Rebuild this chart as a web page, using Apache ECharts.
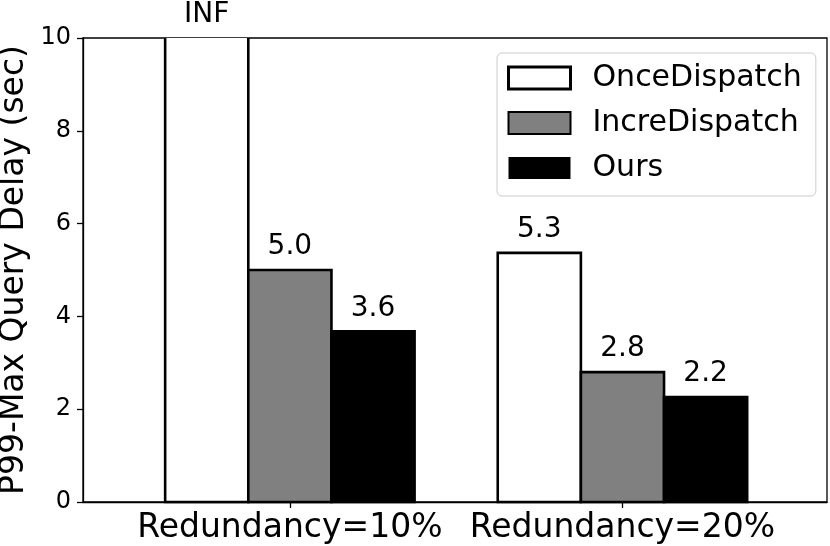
<!DOCTYPE html>
<html>
<head>
<meta charset="utf-8">
<script src="https://cdn.jsdelivr.net/npm/echarts@6/dist/echarts.min.js"></script>
<style>
  html, body { margin: 0; padding: 0; background: #fff; }
  #chart { width: 830px; height: 546px; }
</style>
</head>
<body>
<div id="chart"></div>
<script>
// ---- data ----
const categories = ['Redundancy=10%', 'Redundancy=20%'];
const seriesNames = ['OnceDispatch', 'IncreDispatch', 'Ours'];
const onceValues = [Infinity, 5.37];   // first value is INF (off scale)
const increValues = [5.0, 2.80];
const oursValues = [3.68, 2.26];
const onceLabels = ['INF', '5.3'];
const increLabels = ['5.0', '2.8'];
const oursLabels = ['3.6', '2.2'];
const yTicks = [0, 2, 4, 6, 8, 10];
const yTitle = 'P99-Max Query Delay (sec)';

// ---- styling / layout ----
const Y_MAX = 10;
const BAR_W = 0.25;
const OFFSETS = [-0.25, 0, 0.25];
const FILLS = ['#ffffff', '#808080', '#000000'];
const FONT = 'DejaVu Sans';
const allValues = [onceValues, increValues, oursValues];
const allLabels = [onceLabels, increLabels, oursLabels];

function makeRender(si) {
  return function (params, api) {
    const ci = api.value(0);
    const v = api.value(1);
    const x = ci + OFFSETS[si];
    const clipped = !(v <= Y_MAX);
    const top = clipped ? Y_MAX : v;
    const p0 = api.coord([x - BAR_W / 2, top]);
    const p1 = api.coord([x + BAR_W / 2, 0]);
    const x0 = p0[0], y0 = p0[1], x1 = p1[0], y1 = p1[1];
    const edge = clipped
      ? { type: 'polyline', shape: { points: [[x0, y0], [x0, y1], [x1, y1], [x1, y0]] },
          style: { stroke: '#000', lineWidth: 2.6, fill: null } }
      : { type: 'polygon', shape: { points: [[x0, y1], [x0, y0], [x1, y0], [x1, y1]] },
          style: { stroke: '#000', lineWidth: 2.6, fill: null, lineJoin: 'miter' } };
    return {
      type: 'group',
      children: [
        { type: 'rect', shape: { x: x0, y: y0, width: x1 - x0, height: y1 - y0 },
          style: { fill: FILLS[si] } },
        edge,
        { type: 'text', x: (x0 + x1) / 2, y: y0 - 23,
          style: { text: allLabels[si][params.dataIndex], fontSize: 28, fontFamily: FONT,
                   fill: '#000', align: 'center', verticalAlign: 'middle' } }
      ]
    };
  };
}

const series = seriesNames.map(function (name, si) {
  return {
    name: name,
    type: 'custom',
    renderItem: makeRender(si),
    data: categories.map(function (c, ci) { return [ci, allValues[si][ci]]; }),
    itemStyle: { color: FILLS[si] },
    z: 3
  };
});

const chart = echarts.init(document.getElementById('chart'), null, { renderer: 'canvas' });
chart.setOption({
  animation: false,
  backgroundColor: '#fff',
  textStyle: { fontFamily: FONT },
  grid: { left: 83, right: 3, top: 38, bottom: 44, show: true, borderColor: '#000', borderWidth: 1.3,
          containLabel: false, outerBoundsMode: 'none' },
  graphic: [{
    type: 'text', x: 14, y: 270, rotation: Math.PI / 2,
    style: { text: yTitle, fontSize: 33, fontFamily: FONT, fill: '#000',
             align: 'center', verticalAlign: 'middle' }
  }],
  legend: {
    orient: 'vertical',
    left: 497, top: 53,
    padding: [10, 14, 13, 10],
    itemWidth: 62, itemHeight: 22, itemGap: 15,
    icon: 'rect',
    borderColor: '#cccccc', borderWidth: 1, borderRadius: 5,
    backgroundColor: '#ffffff',
    textStyle: { fontSize: 30, fontFamily: FONT, color: '#000', padding: [0, 0, 0, 17] },
    data: [
      { name: seriesNames[0], itemStyle: { color: FILLS[0], borderColor: '#000', borderWidth: 3 } },
      { name: seriesNames[1], itemStyle: { color: FILLS[1], borderColor: '#000', borderWidth: 2 } },
      { name: seriesNames[2], itemStyle: { color: FILLS[2], borderColor: '#000', borderWidth: 0 } }
    ]
  },
  xAxis: {
    type: 'value',
    min: -0.622, max: 1.615,
    axisLine: { show: true, onZero: false, lineStyle: { color: '#000', width: 1.3 } },
    axisTick: { show: true, customValues: [0, 1], length: 6, lineStyle: { color: '#000', width: 1.3 } },
    axisLabel: { customValues: [0, 1], formatter: function (v) { return categories[Math.round(v)]; },
                 fontSize: 33, fontFamily: FONT, color: '#000', margin: 10 },
    splitLine: { show: false }
  },
  yAxis: {
    type: 'value',
    min: 0, max: Y_MAX, interval: 2,
    axisLine: { show: true, onZero: false, lineStyle: { color: '#000', width: 1.3 } },
    axisTick: { show: true, length: 6, lineStyle: { color: '#000', width: 1.3 } },
    axisLabel: { fontSize: 24, fontFamily: FONT, color: '#000', margin: 12,
                 customValues: yTicks },
    splitLine: { show: false }
  },
  series: series
});
</script>
</body>
</html>
